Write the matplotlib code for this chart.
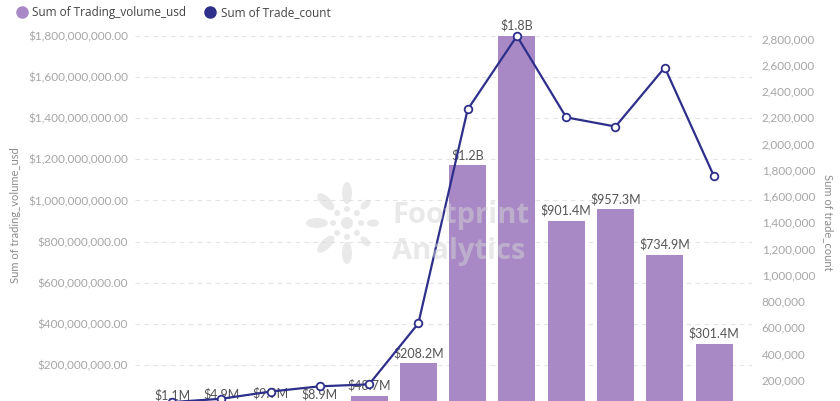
"""Trading volume (bars) and trade count (line) on twin axes."""

import numpy as np
import matplotlib.pyplot as plt
from matplotlib.lines import Line2D
from matplotlib.patches import Ellipse
from matplotlib.ticker import FuncFormatter

# ---------------------------------------------------------------------------
# Data
# ---------------------------------------------------------------------------
periods = list(range(12))
volume_usd = [1.1e6, 4.9e6, 9.9e6, 8.9e6, 48.7e6, 208.2e6,
              1.17e9, 1.80e9, 901.4e6, 957.3e6, 734.9e6, 301.4e6]
volume_labels = ["$1.1M", "$4.9M", "$9.9M", "$8.9M", "$48.7M", "$208.2M",
                 "$1.2B", "$1.8B", "$901.4M", "$957.3M", "$734.9M", "$301.4M"]
trade_count = [30_000, 55_000, 110_000, 150_000, 165_000, 630_000,
               2_260_000, 2_820_000, 2_200_000, 2_130_000, 2_580_000, 1_750_000]

left_ticks = [2e8 * i for i in range(1, 10)]
right_ticks = [200_000 * i for i in range(1, 15)]

BAR_COLOR = "#a889c6"
LINE_COLOR = "#2e2f8a"
TICK_COLOR = "#a6a6a6"
LABEL_COLOR = "#555555"
WATERMARK = "#d4d4d4"

plt.rcParams["font.family"] = ["Lato", "DejaVu Sans"]

fig = plt.figure(figsize=(8.4, 4.01), dpi=100)
W, H = 840, 401
# axes spans x 135..752 px, y 30..406 px (the baseline sits just below the image)
ax = fig.add_axes([135 / W, (H - 406) / H, (752 - 135) / W, (406 - 30) / H])
ax2 = ax.twinx()

ax.bar(periods, volume_usd, width=0.75, color=BAR_COLOR, zorder=2)
ax.set_xlim(-0.75, 11.77)
ax.set_ylim(0, 376 / 205.6 * 1e9)
ax.set_yticks(left_ticks)
ax.yaxis.set_major_formatter(FuncFormatter(lambda v, _: f"${v:,.2f}"))
ax.grid(axis="y", color="#e4e4e4", linestyle=(0, (4, 4)), linewidth=0.8, zorder=0)
ax.set_axisbelow(True)
ax.set_xticks([])

for x, v, lab in zip(periods, volume_usd, volume_labels):
    ax.annotate(lab, (x, v), xytext=(0, 3), textcoords="offset points",
                ha="center", va="bottom", fontsize=9, color=LABEL_COLOR, zorder=5)

ax2.plot(periods, trade_count, color=LINE_COLOR, linewidth=1.6,
         marker="o", markersize=5.5, markerfacecolor="white",
         markeredgecolor=LINE_COLOR, markeredgewidth=1.3, zorder=4)
ax2.set_ylim(0, 376 / 131.2 * 1e6)
ax2.set_yticks(right_ticks)
ax2.yaxis.set_major_formatter(FuncFormatter(lambda v, _: f"{v:,.0f}"))

for a in (ax, ax2):
    for s in a.spines.values():
        s.set_visible(False)
    a.tick_params(axis="y", length=0, labelsize=8.5, labelcolor=TICK_COLOR)
ax.tick_params(axis="y", pad=5)
ax2.tick_params(axis="y", pad=7)
ax2.tick_params(axis="x", length=0)

# axis titles
fig.text(16 / W, 1 - 215 / H, "Sum of trading_volume_usd", rotation=90,
         ha="center", va="center", fontsize=8, color="#8c8c8c")
fig.text(828 / W, 1 - 222 / H, "Sum of trade_count", rotation=270,
         ha="center", va="center", fontsize=8, color="#8c8c8c")

# faint watermark drawn over the plot
wm_font = {"family": ["Open Sans", "DejaVu Sans"], "fontsize": 21, "fontweight": "bold"}
fig.text(392 / W, 1 - 216 / H, "Footprint", color=WATERMARK, alpha=0.5,
         ha="left", va="center", zorder=10, **wm_font)
fig.text(392 / W, 1 - 252 / H, "Analytics", color=WATERMARK, alpha=0.5,
         ha="left", va="center", zorder=10, **wm_font)

# watermark logo: a small flower of dots and petals (pixel coords -> inches)
cx, cy = 347, 223
def px(x, y):
    return (x / 100, (H - y) / 100)
logo = [Ellipse(px(cx, cy), 0.12, 0.12)]
for ang in range(0, 360, 45):
    r = np.radians(ang)
    logo.append(Ellipse(px(cx + 14 * np.cos(r), cy - 14 * np.sin(r)), 0.06, 0.06))
for ang in (90, 135, 180, 225, 270):
    r = np.radians(ang)
    logo.append(Ellipse(px(cx + 30 * np.cos(r), cy - 30 * np.sin(r)), 0.22, 0.10,
                        angle=ang))
for ang in (45, 0, 315):
    r = np.radians(ang)
    logo.append(Ellipse(px(cx + 26 * np.cos(r), cy - 26 * np.sin(r)), 0.12, 0.07,
                        angle=ang))
for p in logo:
    p.set_transform(fig.dpi_scale_trans)
    p.set_facecolor(WATERMARK)
    p.set_edgecolor("none")
    p.set_alpha(0.5)
    p.set_zorder(10)
    fig.add_artist(p)

# legend
handles = [
    Line2D([], [], linestyle="none", marker="o", markersize=8,
           markerfacecolor=BAR_COLOR, markeredgecolor=BAR_COLOR),
    Line2D([], [], linestyle="none", marker="o", markersize=8,
           markerfacecolor=LINE_COLOR, markeredgecolor=LINE_COLOR),
]
fig.legend(handles, ["Sum of Trading_volume_usd", "Sum of Trade_count"],
           loc="upper left", bbox_to_anchor=(4 / W, 1.012), ncol=2,
           frameon=False, handletextpad=0.3, columnspacing=1.4,
           handlelength=1.2, prop={"family": ["Open Sans", "DejaVu Sans"], "size": 8.5},
           labelcolor="#444444")

fig.savefig("out.png", dpi=100)
